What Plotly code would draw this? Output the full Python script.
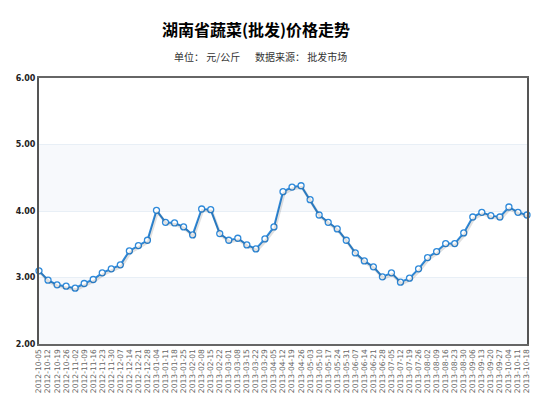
import plotly.graph_objects as go

# Weekly wholesale vegetable prices, Hunan province (yuan / kg)
dates = [
    "2012-10-05", "2012-10-12", "2012-10-19", "2012-10-26", "2012-11-02",
    "2012-11-09", "2012-11-16", "2012-11-23", "2012-11-30", "2012-12-07",
    "2012-12-14", "2012-12-21", "2012-12-28", "2013-01-04", "2013-01-11",
    "2013-01-18", "2013-01-25", "2013-02-01", "2013-02-08", "2013-02-15",
    "2013-02-22", "2013-03-01", "2013-03-08", "2013-03-15", "2013-03-22",
    "2013-03-29", "2013-04-05", "2013-04-12", "2013-04-19", "2013-04-26",
    "2013-05-03", "2013-05-10", "2013-05-17", "2013-05-24", "2013-05-31",
    "2013-06-07", "2013-06-14", "2013-06-21", "2013-06-28", "2013-07-05",
    "2013-07-12", "2013-07-19", "2013-07-26", "2013-08-02", "2013-08-09",
    "2013-08-16", "2013-08-23", "2013-08-30", "2013-09-06", "2013-09-13",
    "2013-09-20", "2013-09-27", "2013-10-04", "2013-10-11", "2013-10-18",
]
prices = [
    3.10, 2.96, 2.89, 2.87, 2.84, 2.91, 2.97, 3.07, 3.13, 3.19,
    3.40, 3.48, 3.56, 4.01, 3.83, 3.82, 3.76, 3.64, 4.03, 4.02,
    3.66, 3.56, 3.59, 3.49, 3.43, 3.58, 3.76, 4.29, 4.36, 4.38,
    4.17, 3.94, 3.83, 3.73, 3.56, 3.37, 3.25, 3.16, 3.01, 3.07,
    2.93, 2.99, 3.13, 3.30, 3.39, 3.51, 3.51, 3.67, 3.91, 3.98,
    3.93, 3.91, 4.06, 3.98, 3.94,
]
y_ticks = [2, 3, 4, 5, 6]

idx = list(range(len(dates)))
y_min, y_max = 2, 6
x_min, x_max = 0, len(dates) - 1

# plot area geometry in pixels (for the soft drop shadow offset)
plot_w, plot_h = 488, 266
dx = 1.0 * (x_max - x_min) / plot_w
dy = 1.6 * (y_max - y_min) / plot_h

line_color = "#2f8ada"

fig = go.Figure()

# drop shadow drawn on a slightly shifted overlay axis pair
fig.add_trace(go.Scatter(
    x=idx, y=prices, xaxis="x2", yaxis="y2", mode="lines",
    line=dict(color="rgba(0,0,0,0.12)", width=3),
    hoverinfo="skip", showlegend=False,
))
fig.add_trace(go.Scatter(
    x=idx, y=prices, mode="lines+markers",
    line=dict(color=line_color, width=2),
    marker=dict(symbol="circle", size=6, color="white",
                line=dict(color=line_color, width=1.3)),
    cliponaxis=False, showlegend=False,
))

# alternating horizontal bands
shapes = []
for lo, hi in [(2, 3), (4, 5)]:
    shapes.append(dict(type="rect", xref="paper", yref="y", x0=0, x1=1,
                       y0=lo, y1=hi, fillcolor="#f7f9fc", line_width=0,
                       layer="below"))

fig.update_layout(
    width=553, height=398,
    margin=dict(l=39, r=26, t=78, b=54, autoexpand=False),
    paper_bgcolor="white", plot_bgcolor="white",
    shapes=shapes,
    title=dict(text="湖南省蔬菜(批发)价格走势", x=256 / 553, xanchor="center",
               y=1 - 30 / 398, yanchor="middle", yref="container",
               font=dict(family="Noto Sans CJK SC", size=16, color="#000",
                         weight="bold")),
    xaxis=dict(range=[x_min, x_max], tickmode="array", tickvals=idx,
               ticktext=dates, tickangle=-90, showgrid=False, zeroline=False,
               showline=True, linecolor="#666", linewidth=2, mirror=True,
               automargin=False, ticks="",
               tickfont=dict(family="DejaVu Sans", size=7.6, color="#666")),
    yaxis=dict(range=[y_min, y_max], tickvals=y_ticks, tickformat=".2f",
               showgrid=True, gridcolor="#e8eff6", gridwidth=1,
               zeroline=False, showline=True, linecolor="#555", linewidth=2,
               mirror=True, ticks="", automargin=False,
               tickfont=dict(family="DejaVu Sans", size=8, color="#222",
                             weight="bold")),
    xaxis2=dict(range=[x_min - dx, x_max - dx], overlaying="x",
                visible=False),
    yaxis2=dict(range=[y_min + dy, y_max + dy], overlaying="y",
                visible=False),
)

sub_font = dict(family="Noto Sans CJK SC", size=10, color="#333")
fig.add_annotation(text="单位： 元/公斤", xref="paper", yref="paper",
                   x=(172 - 39) / 488, y=(344 - 57) / 266, xanchor="left",
                   yanchor="middle", showarrow=False, font=sub_font)
fig.add_annotation(text="数据来源： 批发市场", xref="paper", yref="paper",
                   x=(253 - 39) / 488, y=(344 - 57) / 266, xanchor="left",
                   yanchor="middle", showarrow=False, font=sub_font)

fig.write_html("out.html")
